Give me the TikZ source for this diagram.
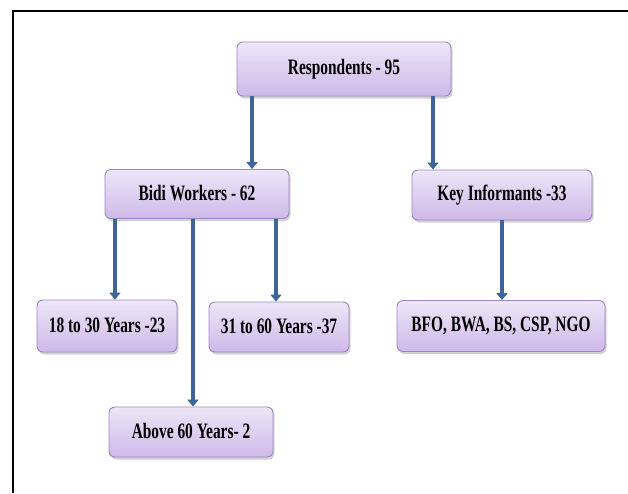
\documentclass[tikz,border=0pt]{standalone}
\usepackage{fontspec}
\setmainfont{Liberation Serif}
\usetikzlibrary{arrows.meta,shadows}
\definecolor{boxtop}{HTML}{EEE6F8}
\definecolor{boxbot}{HTML}{CDB9E8}
\definecolor{boxline}{HTML}{9E86C4}
\definecolor{arrowblue}{HTML}{3E6599}
\newcommand{\cnd}[1]{\raisebox{2.5pt}{\scalebox{0.70}[1]{#1}}}
\tikzset{
  box/.style={draw=boxline, line width=0.9pt, rounded corners=6pt,
    top color=boxtop, bottom color=boxbot,
    drop shadow={opacity=0.35, shadow xshift=1.5pt, shadow yshift=-2.5pt, fill=gray},
    font=\bfseries\fontsize{22}{25}\selectfont, inner sep=0pt, align=center},
  flow/.style={draw=arrowblue, line width=4pt, -{Triangle[width=11pt,length=7pt]}}
}
\begin{document}
\begin{tikzpicture}[x=1pt,y=-1pt]
\useasboundingbox (0,0) rectangle (628,493);
\fill[white] (0,0) rectangle (628,493);
\draw[line width=2pt] (13,493) -- (13,11) -- (628,11);
\node[box, minimum width=214pt, minimum height=54pt] (resp) at (344,69) {\cnd{Respondents - 95}};
\node[box, minimum width=184pt, minimum height=49pt] (bidi) at (197,194) {\cnd{Bidi Workers - 62}};
\node[box, minimum width=180pt, minimum height=50pt] (key) at (502,195) {\cnd{Key Informants -33}};
\node[box, minimum width=140pt, minimum height=52pt] (young) at (107,326) {\cnd{18 to 30 Years -23}};
\node[box, minimum width=140pt, minimum height=50pt] (mid) at (279,327) {\cnd{31 to 60 Years -37}};
\node[box, minimum width=208pt, minimum height=51pt] (org) at (501,326) {\cnd{BFO, BWA, BS, CSP, NGO}};
\node[box, minimum width=164pt, minimum height=50pt] (old) at (191,432) {\cnd{Above 60 Years- 2}};
\draw[flow] (resp.south -| 252,0) -- (bidi.north -| 252,0);
\draw[flow] (resp.south -| 433,0) -- (key.north -| 433,0);
\draw[flow] (bidi.south -| 115,0) -- (young.north -| 115,0);
\draw[flow] (bidi.south -| 193,0) -- (old.north -| 193,0);
\draw[flow] (bidi.south -| 276,0) -- (mid.north -| 276,0);
\draw[flow] (key.south -| 502,0) -- (org.north -| 502,0);
\end{tikzpicture}
\end{document}
